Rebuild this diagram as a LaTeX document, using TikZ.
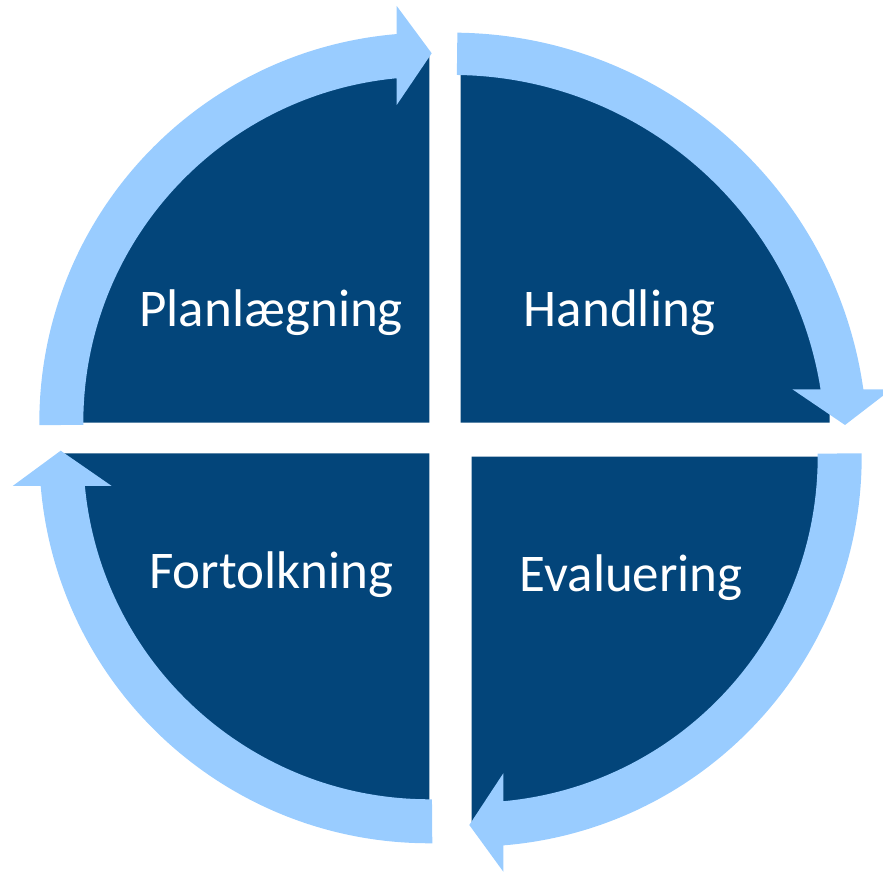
\documentclass[tikz,border=0pt]{standalone}
\usepackage{fontspec}
\setmainfont{Carlito}
\usetikzlibrary{calc}
\definecolor{sectorblue}{RGB}{3,69,122}
\definecolor{bandblue}{RGB}{153,204,255}
\begin{document}
\begin{tikzpicture}[x=1pt,y=1pt,
  sector/.style={fill=sectorblue},
  band/.style={fill=bandblue},
  lbl/.style={text=white, font=\fontsize{53}{60}\selectfont, anchor=base, inner sep=0pt}]
\useasboundingbox (0,0) rectangle (883,874);
\coordinate (TLc) at (429.3,451.3);
\coordinate (TRc) at (460.7,451.3);
\coordinate (BRc) at (471.7,417.3);
\coordinate (BLc) at (429.3,420.7);
\coordinate (TRa) at (452.3,426.15);
% sectors
\fill[sector] (TLc) -- ++(180:369pt) arc[start angle=180,end angle=90,radius=369pt] -- cycle;
\fill[sector] (TRc) -- ++(0:369pt) arc[start angle=0,end angle=90,radius=369pt] -- cycle;
\fill[sector] (BRc) -- ++(0:369pt) arc[start angle=0,end angle=-90,radius=369pt] -- cycle;
\fill[sector] (BLc) -- ++(180:369pt) arc[start angle=180,end angle=270,radius=369pt] -- cycle;
% circular arrows
\fill[band] ($(TLc)+(180.36:390pt)$) arc[start angle=180.36,end angle=94.79,radius=390pt]
  -- (396.7,868) -- (431.7,820.7) -- (396.7,769)
  -- ($(TLc)+(95.41:346pt)$) arc[start angle=95.41,end angle=180.36,radius=346pt] -- cycle;
\fill[band] ($(TRa)+(89.3:415.2pt)$) arc[start angle=89.3,end angle=8.106,radius=415.2pt]
  -- (891.4,484.7) -- (845,449) -- (792.4,484.7)
  -- ($(TRa)+(9.034:372.9pt)$) arc[start angle=9.034,end angle=89.3,radius=372.9pt] -- cycle;
\fill[band] ($(BRc)+(0.5:390pt)$) arc[start angle=0.5,end angle=-85.35,radius=390pt]
  -- (503.3,2.3) -- (469.3,49) -- (503.3,100.7)
  -- ($(BRc)+(-84.76:346pt)$) arc[start angle=-84.76,end angle=0.5,radius=346pt] -- cycle;
\fill[band] ($(BLc)+(-89.56:390pt)$) arc[start angle=-89.56,end angle=-175.19,radius=390pt]
  -- (12.7,388) -- (60.7,423.3) -- (111.7,388)
  -- ($(BLc)+(-174.58:346pt)$) arc[start angle=-174.58,end angle=-89.56,radius=346pt] -- cycle;
% labels
\node[lbl] (plan) at (271.2,547.4) {Planlægning};
\node[lbl] (hand) at (619.5,547.4) {Handling};
\node[lbl] (fort) at (271.4,285.5) {Fortolkning};
\node[lbl] (eval) at (631.3,282.7) {Evaluering};
\end{tikzpicture}
\end{document}
